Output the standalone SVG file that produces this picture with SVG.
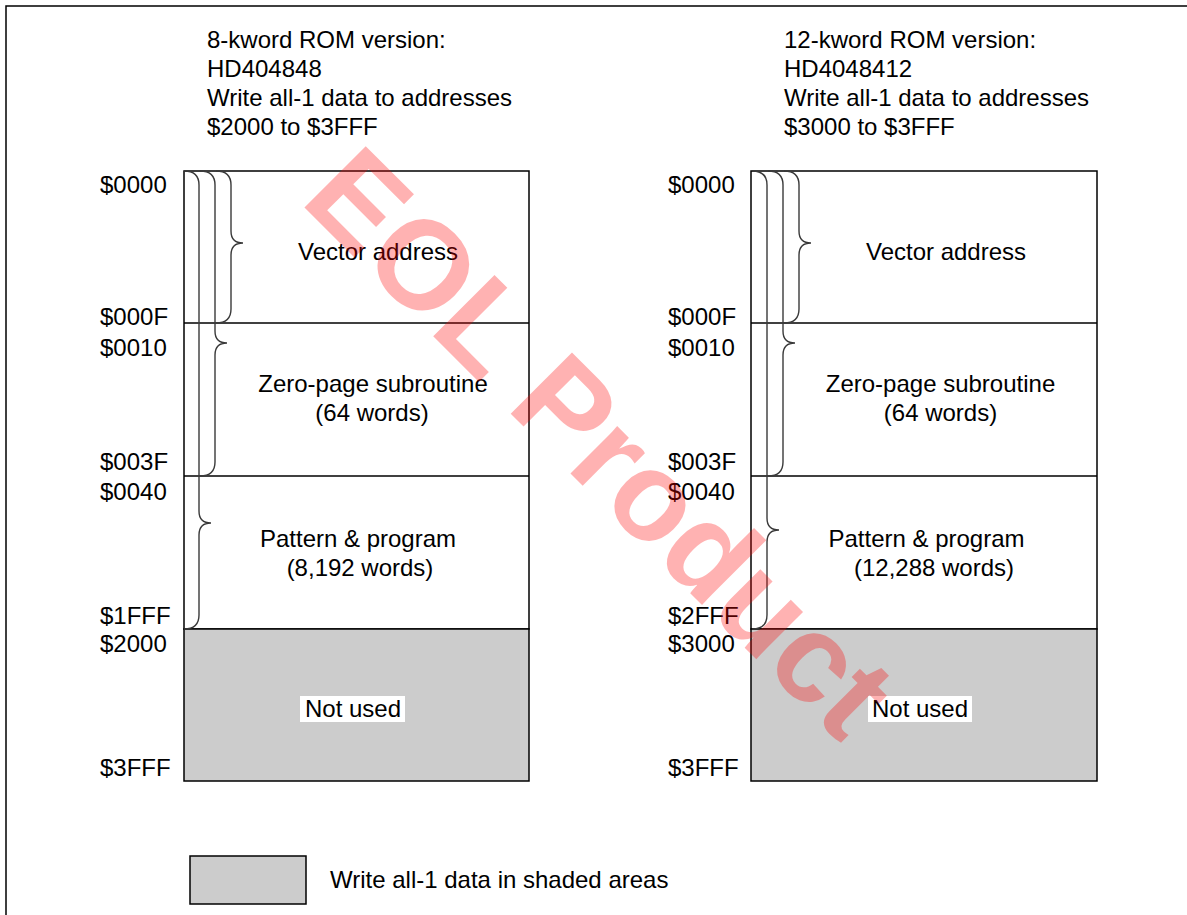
<svg xmlns="http://www.w3.org/2000/svg" width="1187" height="915" viewBox="0 0 1187 915">
<style>
text{font-family:"Liberation Sans",Arial,sans-serif;font-size:24px;fill:#000}
.c{text-anchor:middle}
.box{fill:#fff;stroke:#000;stroke-width:1.5}
.shade{fill:#cccccc;stroke:#000;stroke-width:1.5}
.div{stroke:#000;stroke-width:1.5}
.brace{fill:none;stroke:#3a3a3a;stroke-width:1.4}
.wm{font-family:"Liberation Sans",Arial,sans-serif;font-weight:bold;font-size:126px;fill:#ff0000;fill-opacity:0.3}
</style>
<rect width="1187" height="915" fill="#fff"/>
<rect x="6" y="6" width="1300" height="1000" fill="none" stroke="#000" stroke-width="1.5"/>

<g id="left-title">
<text x="207" y="48">8-kword ROM version:</text>
<text x="207" y="77">HD404848</text>
<text x="207" y="106">Write all-1 data to addresses</text>
<text x="207" y="135">$2000 to $3FFF</text>
</g>
<g id="right-title">
<text x="784" y="48">12-kword ROM version:</text>
<text x="784" y="77">HD4048412</text>
<text x="784" y="106">Write all-1 data to addresses</text>
<text x="784" y="135">$3000 to $3FFF</text>
</g>

<g id="left-map">
<rect class="box" x="184" y="171" width="345" height="458"/>
<rect class="shade" x="184" y="629" width="345" height="152"/>
<line class="div" x1="184" y1="323" x2="529" y2="323"/>
<line class="div" x1="184" y1="476" x2="529" y2="476"/>
<text class="c" x="378" y="260">Vector address</text>
<text class="c" x="373" y="392">Zero-page subroutine</text>
<text class="c" x="372" y="421">(64 words)</text>
<text class="c" x="358" y="547">Pattern &amp; program</text>
<text class="c" x="360" y="576">(8,192 words)</text>
<rect x="300" y="696" width="105" height="26" fill="#fff"/>
<text class="c" x="353" y="717">Not used</text>
<text x="100" y="193">$0000</text>
<text x="100" y="325">$000F</text>
<text x="100" y="356">$0010</text>
<text x="100" y="470">$003F</text>
<text x="100" y="500">$0040</text>
<text x="100" y="624">$1FFF</text>
<text x="100" y="652">$2000</text>
<text x="100" y="776">$3FFF</text>
</g>

<g id="right-map">
<rect class="box" x="751" y="171" width="346" height="458"/>
<rect class="shade" x="751" y="629" width="346" height="152"/>
<line class="div" x1="751" y1="323" x2="1097" y2="323"/>
<line class="div" x1="751" y1="476" x2="1097" y2="476"/>
<text class="c" x="946" y="260">Vector address</text>
<text class="c" x="940.5" y="392">Zero-page subroutine</text>
<text class="c" x="940.5" y="421">(64 words)</text>
<text class="c" x="926.5" y="547">Pattern &amp; program</text>
<text class="c" x="934" y="576">(12,288 words)</text>
<rect x="868" y="696" width="104" height="26" fill="#fff"/>
<text class="c" x="920" y="717">Not used</text>
<text x="668" y="193">$0000</text>
<text x="668" y="325">$000F</text>
<text x="668" y="356">$0010</text>
<text x="668" y="470">$003F</text>
<text x="668" y="500">$0040</text>
<text x="668" y="624">$2FFF</text>
<text x="668" y="652">$3000</text>
<text x="668" y="776">$3FFF</text>
</g>

<g id="connectors">
<path class="brace" d="M216,171 C226,171 231,175 231,185 L231,231 C231,239 235,243 243,243 C235,243 231,247 231,255 L231,309 C231,319 226,323 216,323"/>
<path class="brace" d="M200,171 C210,171 215,175 215,185 L215,331 C215,339 219,343 227,343 C219,343 215,347 215,355 L215,462 C215,472 210,476 200,476"/>
<path class="brace" d="M184,171 C194,171 199,175 199,185 L199,511 C199,519 203,523 211,523 C203,523 199,527 199,535 L199,615 C199,625 194,629 184,629"/>
<path class="brace" d="M784,171 C794,171 799,175 799,185 L799,231 C799,239 803,243 811,243 C803,243 799,247 799,255 L799,309 C799,319 794,323 784,323"/>
<path class="brace" d="M768,171 C778,171 783,175 783,185 L783,331 C783,339 787,343 795,343 C787,343 783,347 783,355 L783,462 C783,472 778,476 768,476"/>
<path class="brace" d="M752,171 C762,171 767,175 767,185 L767,518 C767,526 771,530 779,530 C771,530 767,534 767,542 L767,615 C767,625 762,629 752,629"/>
</g>

<g id="legend">
<rect class="shade" x="190" y="856" width="116" height="48"/>
<text x="330" y="888">Write all-1 data in shaded areas</text>
</g>

<text class="wm" text-anchor="middle" transform="translate(570,473) rotate(45)">EOL Product</text>
</svg>
